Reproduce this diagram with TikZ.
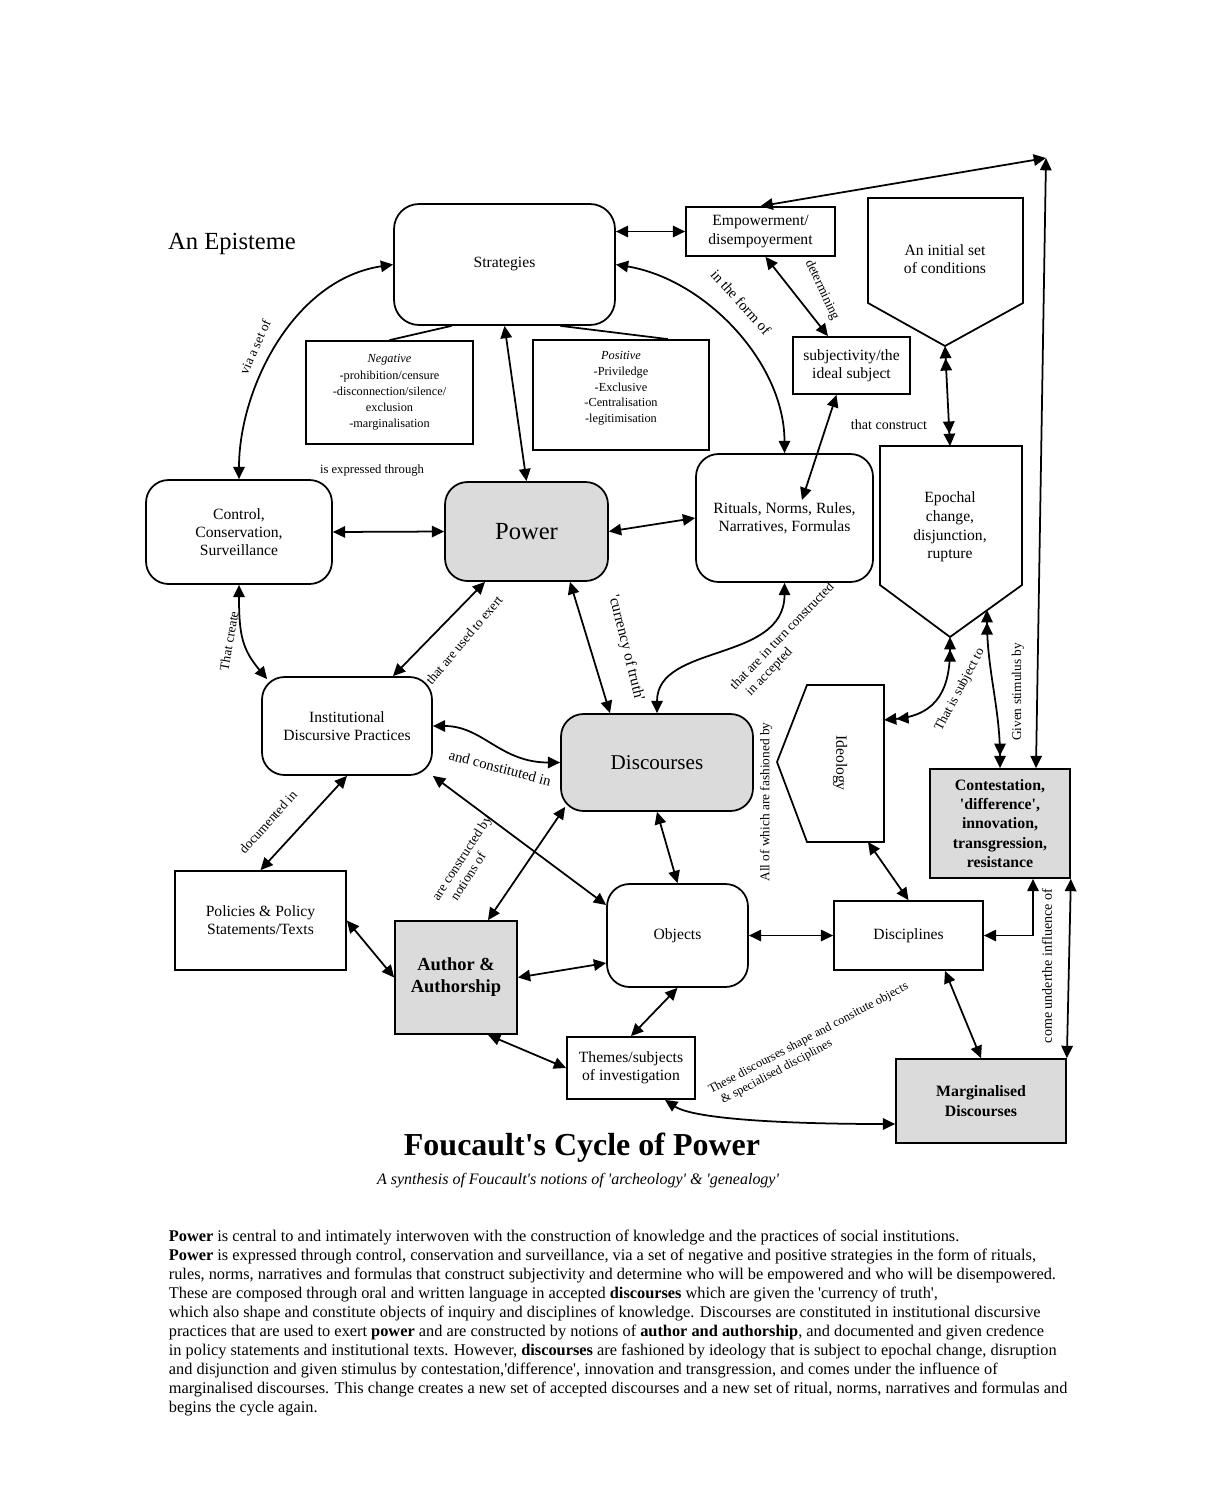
\documentclass[tikz,border=0pt]{standalone}
\usepackage{fontspec}
\setmainfont{Liberation Serif}
\usetikzlibrary{arrows.meta}
\definecolor{boxgrey}{gray}{0.86}
\newcommand{\sq}[1]{\textquotesingle#1\textquotesingle}

\begin{document}
\begin{tikzpicture}[x=0.02cm,y=-0.02cm,line width=1pt,>={Triangle[length=7pt,width=6.5pt]},
  box/.style={draw,align=center,inner sep=1pt,font=\fontsize{8.9}{10.4}\selectfont},
  rbox/.style={box,rounded corners=0.45cm},
  grey/.style={fill=boxgrey},
  lbl/.style={inner sep=0pt,align=center,font=\fontsize{7.6}{8.8}\selectfont}]
\useasboundingbox (0,0) rectangle (1230,1487);
\node[box,minimum width=4.42cm,minimum height=2.42cm,rounded corners=0.5cm] (strat) at (504.5,264.5) {Strategies};
\node[box,minimum width=2.98cm,minimum height=0.98cm] (emp) at (760.5,231.5) {Empowerment/\\disempoyerment};
\node[box,minimum width=3.34cm,minimum height=2.06cm,font=\fontsize{7}{9.2}\selectfont] (neg) at (389.5,392.5) {\textit{Negative}\\-prohibition/censure\\-disconnection/silence/\\exclusion\\-marginalisation};
\node[box,minimum width=3.52cm,minimum height=2.2cm,font=\fontsize{7}{9}\selectfont] (pos) at (621,395) {\textit{Positive}\\-Priviledge\\-Exclusive\\-Centralisation\\-legitimisation\\\mbox{}};
\node[box,minimum width=2.34cm,minimum height=1.14cm] (subj) at (851.5,365.5) {subjectivity/the\\ideal subject};
\node[rbox,minimum width=3.72cm,minimum height=2.08cm] (ctrl) at (239,532) {Control,\\Conservation,\\Surveillance};
\node[rbox,grey,minimum width=3.26cm,minimum height=1.98cm,font=\fontsize{14}{16}\selectfont] (power) at (526.5,531.5) {Power};
\node[rbox,minimum width=3.54cm,minimum height=2.56cm] (rit) at (784.5,518) {Rituals, Norms, Rules,\\Narratives, Formulas};
\node[rbox,minimum width=3.4cm,minimum height=1.96cm] (inst) at (347,726) {Institutional\\Discursive Practices};
\node[rbox,grey,minimum width=3.84cm,minimum height=1.94cm,font=\fontsize{12}{14}\selectfont] (disc) at (657,762.5) {Discourses};
\node[box,grey,minimum width=2.8cm,minimum height=2.18cm,font=\bfseries\fontsize{9}{11}\selectfont] (cont) at (1000,823.5) {Contestation,\\\sq{difference},\\innovation,\\transgression,\\resistance};
\node[box,minimum width=3.42cm,minimum height=1.98cm] (pol) at (260.5,920.5) {Policies \& Policy\\Statements/Texts};
\node[box,grey,minimum width=2.44cm,minimum height=2.26cm,font=\bfseries\fontsize{10.5}{12.5}\selectfont] (auth) at (456,977.5) {Author \&\\Authorship};
\node[rbox,minimum width=2.82cm,minimum height=2.06cm] (obj) at (677.5,935.5) {Objects};
\node[box,minimum width=2.98cm,minimum height=1.38cm] (discip) at (908.5,935.5) {Disciplines};
\node[box,minimum width=2.56cm,minimum height=1.24cm] (theme) at (631,1068) {Themes/subjects\\of investigation};
\node[box,grey,minimum width=3.4cm,minimum height=1.68cm,font=\bfseries\fontsize{9}{11}\selectfont] (marg) at (981,1101) {Marginalised\\Discourses};
\draw (868,198) -- (1023,198) -- (1023,303) -- (945,346) coordinate (initTip) -- (868,303) -- cycle;
\node[box,draw=none] (init) at (945,259) {An initial set\\of conditions};
\draw (880,446) -- (950,446) coordinate (epTop) -- (1022,446) -- (1022,585) -- (950,637) coordinate (epTip) -- (880,585) -- cycle;
\node[box,draw=none,font=\fontsize{8.9}{10.6}\selectfont] (epoch) at (950,527) {Epochal\\change,\\disjunction,\\rupture};
\draw (807,685) -- (884,685) -- (884,842) -- (807,842) -- (777,762) -- cycle;
\node[box,draw=none,rotate=-90] (ideo) at (840,763) {Ideology};
\coordinate (ideoR) at (884,720);
\coordinate (ideoB) at (868,842);
\coordinate (epR) at (987,610);
\coordinate (corner) at (1046,158);
\draw[<->] (emp.west -| strat.east) -- (emp.west);
\draw[<->] (strat.east) .. controls +(90,15) and +(0,-90) .. (rit.north);
\draw[<->] (strat.west) .. controls +(-100,15) and +(0,-90) .. (ctrl.north);
\draw[<->] (strat.south) -- (power.north);
\draw ([xshift=-1.06cm]strat.south) -- (neg.north);
\draw ([xshift=1.12cm]strat.south) -- ([xshift=0.94cm]pos.north);
\draw[<->] ([xshift=0.1cm]emp.south) -- ([xshift=-0.47cm]subj.north);
\draw[<->] (emp.north) -- (corner);
\draw[<->] (corner) -- ([xshift=0.72cm]cont.north);
\draw[<->] ([xshift=-0.3cm]subj.south) -- ([xshift=0.35cm,yshift=0.36cm]rit.center);
\draw[<<->>] (initTip) -- (epTop);
\draw[<->] (ctrl.east) -- (power.west);
\draw[<->] (power.east) -- (rit.west);
\draw[<->] (ctrl.south) .. controls +(0,50) and +(-25,-30) .. ([xshift=0.12cm,yshift=-0.06cm]inst.north west);
\draw[<->] ([xshift=-0.83cm]power.south) -- ([xshift=0.92cm]inst.north);
\draw[<->] ([xshift=0.87cm]power.south) -- ([xshift=-0.94cm]disc.north);
\draw[<->] (rit.south) .. controls +(0,80) and +(0,-70) .. (disc.north);
\draw[<->] (inst.east) .. controls +(50,0) and +(-60,0) .. (disc.west);
\draw[<->] (inst.south east) -- ([yshift=0.61cm]obj.west);
\draw[<->] (disc.south) -- (obj.north);
\draw[<->] ([xshift=0.1cm,yshift=0.1cm]disc.south west) -- ([xshift=0.64cm]auth.north);
\draw[<->] (inst.south) -- (pol.north);
\draw[<->] (pol.east) -- (auth.west);
\draw[<->] (auth.east) -- ([yshift=-0.55cm]obj.west);
\draw[<->] (obj.east) -- (discip.west);
\draw[<->] (discip.east) -| ([xshift=0.66cm]cont.south);
\draw[<->] (ideoB) -- (discip.north);
\draw[<->] ([xshift=0.73cm]discip.south) -- (marg.north);
\draw[<->] (cont.south east) -- (marg.north east);
\draw[<->] (obj.south) -- (theme.north);
\draw[<->] ([xshift=0.64cm]auth.south) -- (theme.west);
\draw[<->] ([xshift=0.68cm]theme.south) .. controls +(30,20) and +(-100,0) .. ([yshift=-0.46cm]marg.west);
\draw[<<->>] (ideoR) .. controls +(55,-5) and +(0,50) .. (epTip);
\draw[<<->>] (epR) .. controls +(0,60) and +(0,-60) .. (cont.north);
\node[inner sep=0pt,font=\fontsize{14}{16}\selectfont] (epist) at (232,244) {An Episteme};
\node[lbl,font=\fontsize{7.2}{8.4}\selectfont] (lexpr) at (372,470) {is expressed through};
\node[lbl,rotate=66] (lvia) at (255,347) {via a set of};
\node[lbl,rotate=-48,font=\fontsize{8.4}{9.6}\selectfont] (lform) at (741,302) {in the form of};
\node[lbl,rotate=-65] (ldet) at (822,290) {determining};
\node[lbl,font=\fontsize{8}{9.6}\selectfont] (lcons) at (889,425) {that construct};
\node[lbl,rotate=80] (lcreate) at (229,641) {That create};
\node[lbl,rotate=50] (lexert) at (464,640) {that are used to exert};
\node[lbl,rotate=-76,font=\fontsize{8.7}{10}\selectfont] (ltruth) at (626,648) {\sq{currency of truth}};
\node[lbl,rotate=46,align=left] (lturn) at (788,642) {that are in turn constructed\\\ \ in accepted};
\node[lbl,rotate=-15,font=\fontsize{8.4}{9.6}\selectfont] (lconst) at (500,768) {and constituted in};
\node[lbl,rotate=90] (lfash) at (766,802) {All of which are fashioned by};
\node[lbl,rotate=62] (lsubj) at (960,690) {That is subject to};
\node[lbl,rotate=90] (lstim) at (1018,692) {Given stimulus by};
\node[lbl,rotate=57,align=left] (lnot) at (468,862) {are constructed by\\\ \ \ notions of};
\node[lbl,rotate=48] (ldoc) at (268,822) {documented in};
\node[lbl,rotate=90,font=\fontsize{8}{9.6}\selectfont] (linfl) at (1047,966) {come underthe influence of};
\node[lbl,rotate=28,align=left,font=\fontsize{7.1}{8.4}\selectfont] (lshape) at (812,1045) {These discourses shape and consitute objects\\\ \ \& specialised disciplines};
\node[font=\bfseries\fontsize{18.2}{20}\selectfont] (title) at (582,1148) {Foucault\textquotesingle s Cycle of Power};
\node[font=\itshape\fontsize{9.1}{10}\selectfont] (sub) at (578,1181) {A synthesis of Foucault\textquotesingle s notions of \sq{archeology} \& \sq{genealogy}};
\node[anchor=north west,align=left,inner sep=0pt,font=\fontsize{9.3}{10.8}\selectfont] (para) at (168,1229) {\textbf{Power} is central to and intimately interwoven with the construction of knowledge and the practices of social institutions.\\
\textbf{Power} is expressed through control, conservation and surveillance, via a set of negative and positive strategies in the form of rituals,\\
rules, norms, narratives and formulas that construct subjectivity and determine who will be empowered and who will be disempowered.\\
These are composed through oral and written language in accepted \textbf{discourses} which are given the \sq{currency of truth},\\
which also shape and constitute objects of inquiry and disciplines of knowledge. Discourses are constituted in institutional discursive\\
practices that are used to exert \textbf{power} and are constructed by notions of \textbf{author and authorship}, and documented and given credence\\
in policy statements and institutional texts. However, \textbf{discourses} are fashioned by ideology that is subject to epochal change, disruption\\
and disjunction and given stimulus by contestation,\sq{difference}, innovation and transgression, and comes under the influence of\\
marginalised discourses. This change creates a new set of accepted discourses and a new set of ritual, norms, narratives and formulas and\\
begins the cycle again.};
\end{tikzpicture}
\end{document}
